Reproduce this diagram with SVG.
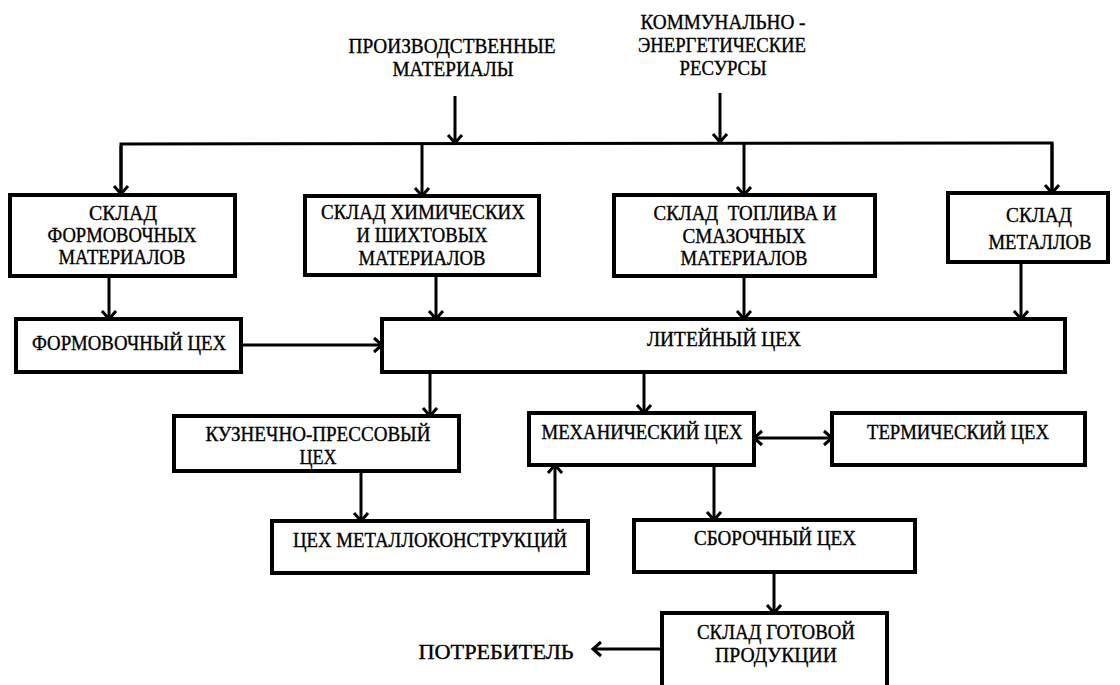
<svg xmlns="http://www.w3.org/2000/svg" width="1120" height="685" viewBox="0 0 1120 685">
<defs>
<marker id="ah" markerUnits="userSpaceOnUse" markerWidth="24" markerHeight="24" viewBox="-12 -12 24 24" refX="0" refY="0" orient="auto-start-reverse">
<path d="M-8,-7 L0,0 L-8,7" fill="none" stroke="#000" stroke-width="3" stroke-linejoin="miter"/>
</marker>
<style>
.box{fill:#fff;stroke:#000;stroke-width:4}
.ln{fill:none;stroke:#000;stroke-width:3}
.ar{fill:none;stroke:#000;stroke-width:3;marker-end:url(#ah)}
.t{font-family:"Liberation Serif","DejaVu Serif",serif;font-size:20px;fill:#000;stroke:#000;stroke-width:0.35;text-anchor:middle}
</style>
</defs>
<rect width="1120" height="685" fill="#fff"/>

<g id="src-materials">
<text class="t" x="452" y="53" textLength="207" lengthAdjust="spacingAndGlyphs">ПРОИЗВОДСТВЕННЫЕ</text>
<text class="t" x="453" y="76" textLength="121" lengthAdjust="spacingAndGlyphs">МАТЕРИАЛЫ</text>
</g>
<g id="src-resources">
<text class="t" x="723" y="29" textLength="165" lengthAdjust="spacingAndGlyphs">КОММУНАЛЬНО -</text>
<text class="t" x="722" y="52" textLength="168" lengthAdjust="spacingAndGlyphs">ЭНЕРГЕТИЧЕСКИЕ</text>
<text class="t" x="723" y="75" textLength="87" lengthAdjust="spacingAndGlyphs">РЕСУРСЫ</text>
</g>

<g id="connectors">
<line class="ar" x1="455" y1="96" x2="455" y2="143"/>
<line class="ar" x1="720" y1="93" x2="720" y2="142"/>
<polyline class="ln" points="121,196 121,144 1052,143 1052,194"/>
<line class="ar" x1="121" y1="146" x2="121" y2="194"/>
<line class="ar" x1="422" y1="144" x2="422" y2="196"/>
<line class="ar" x1="744" y1="143" x2="744" y2="195"/>
<line class="ar" x1="1052" y1="143" x2="1052" y2="193"/>
<line class="ar" x1="109" y1="277" x2="109" y2="319"/>
<line class="ar" x1="436" y1="275" x2="436" y2="319"/>
<line class="ar" x1="744" y1="276" x2="744" y2="319"/>
<line class="ar" x1="1021" y1="262" x2="1021" y2="319"/>
<line class="ar" x1="241" y1="345" x2="382" y2="345"/>
<line class="ar" x1="430" y1="372" x2="430" y2="416"/>
<line class="ar" x1="644" y1="372" x2="644" y2="413"/>
<line class="ar" x1="754" y1="438" x2="832" y2="438" style="marker-start:url(#ah)"/>
<line class="ar" x1="361" y1="471" x2="361" y2="521"/>
<line class="ar" x1="555" y1="521" x2="555" y2="465"/>
<line class="ar" x1="714" y1="465" x2="714" y2="520"/>
<line class="ar" x1="774" y1="572" x2="774" y2="613"/>
<line class="ar" x1="662" y1="649" x2="593" y2="649"/>
</g>

<g id="sklad-form">
<rect class="box" x="10" y="195" width="225" height="81"/>
<text class="t" x="123" y="220" textLength="68" lengthAdjust="spacingAndGlyphs">СКЛАД</text>
<text class="t" x="122" y="242" textLength="149" lengthAdjust="spacingAndGlyphs">ФОРМОВОЧНЫХ</text>
<text class="t" x="122" y="264" textLength="127" lengthAdjust="spacingAndGlyphs">МАТЕРИАЛОВ</text>
</g>
<g id="sklad-chem">
<rect class="box" x="305" y="196" width="234" height="79"/>
<text class="t" x="423" y="219" textLength="204" lengthAdjust="spacingAndGlyphs">СКЛАД ХИМИЧЕСКИХ</text>
<text class="t" x="422" y="242" textLength="131" lengthAdjust="spacingAndGlyphs">И ШИХТОВЫХ</text>
<text class="t" x="422" y="265" textLength="127" lengthAdjust="spacingAndGlyphs">МАТЕРИАЛОВ</text>
</g>
<g id="sklad-fuel">
<rect class="box" x="614" y="195" width="261" height="81"/>
<text class="t" x="745" y="220" textLength="183" lengthAdjust="spacingAndGlyphs" xml:space="preserve">СКЛАД  ТОПЛИВА И</text>
<text class="t" x="744" y="243" textLength="123" lengthAdjust="spacingAndGlyphs">СМАЗОЧНЫХ</text>
<text class="t" x="744" y="265" textLength="127" lengthAdjust="spacingAndGlyphs">МАТЕРИАЛОВ</text>
</g>
<g id="sklad-metal">
<rect class="box" x="948" y="193" width="160" height="69"/>
<text class="t" x="1039" y="222" textLength="66" lengthAdjust="spacingAndGlyphs">СКЛАД</text>
<text class="t" x="1040" y="249" textLength="103" lengthAdjust="spacingAndGlyphs">МЕТАЛЛОВ</text>
</g>
<g id="form-shop">
<rect class="box" x="16" y="319" width="225" height="53"/>
<text class="t" x="129" y="350" textLength="194" lengthAdjust="spacingAndGlyphs">ФОРМОВОЧНЫЙ ЦЕХ</text>
</g>
<g id="foundry">
<rect class="box" x="382" y="319" width="683" height="53"/>
<text class="t" x="724" y="346" textLength="154" lengthAdjust="spacingAndGlyphs">ЛИТЕЙНЫЙ ЦЕХ</text>
</g>
<g id="forge">
<rect class="box" x="174" y="416" width="285" height="55"/>
<text class="t" x="318" y="441" textLength="225" lengthAdjust="spacingAndGlyphs">КУЗНЕЧНО-ПРЕССОВЫЙ</text>
<text class="t" x="318" y="464" textLength="37" lengthAdjust="spacingAndGlyphs">ЦЕХ</text>
</g>
<g id="mech">
<rect class="box" x="529" y="413" width="225" height="52"/>
<text class="t" x="642" y="439" textLength="201" lengthAdjust="spacingAndGlyphs">МЕХАНИЧЕСКИЙ ЦЕХ</text>
</g>
<g id="therm">
<rect class="box" x="832" y="413" width="253" height="52"/>
<text class="t" x="958" y="439" textLength="182" lengthAdjust="spacingAndGlyphs">ТЕРМИЧЕСКИЙ ЦЕХ</text>
</g>
<g id="metalcon">
<rect class="box" x="272" y="521" width="316" height="52"/>
<text class="t" x="430" y="547" textLength="274" lengthAdjust="spacingAndGlyphs">ЦЕХ МЕТАЛЛОКОНСТРУКЦИЙ</text>
</g>
<g id="assembly">
<rect class="box" x="634" y="520" width="281" height="52"/>
<text class="t" x="775" y="545" textLength="162" lengthAdjust="spacingAndGlyphs">СБОРОЧНЫЙ ЦЕХ</text>
</g>
<g id="finished">
<rect class="box" x="662" y="613" width="225" height="90"/>
<text class="t" x="776" y="639" textLength="158" lengthAdjust="spacingAndGlyphs">СКЛАД ГОТОВОЙ</text>
<text class="t" x="776" y="662" textLength="122" lengthAdjust="spacingAndGlyphs">ПРОДУКЦИИ</text>
</g>
<g id="consumer">
<text class="t" x="496" y="659" textLength="155" lengthAdjust="spacingAndGlyphs">ПОТРЕБИТЕЛЬ</text>
</g>
</svg>
